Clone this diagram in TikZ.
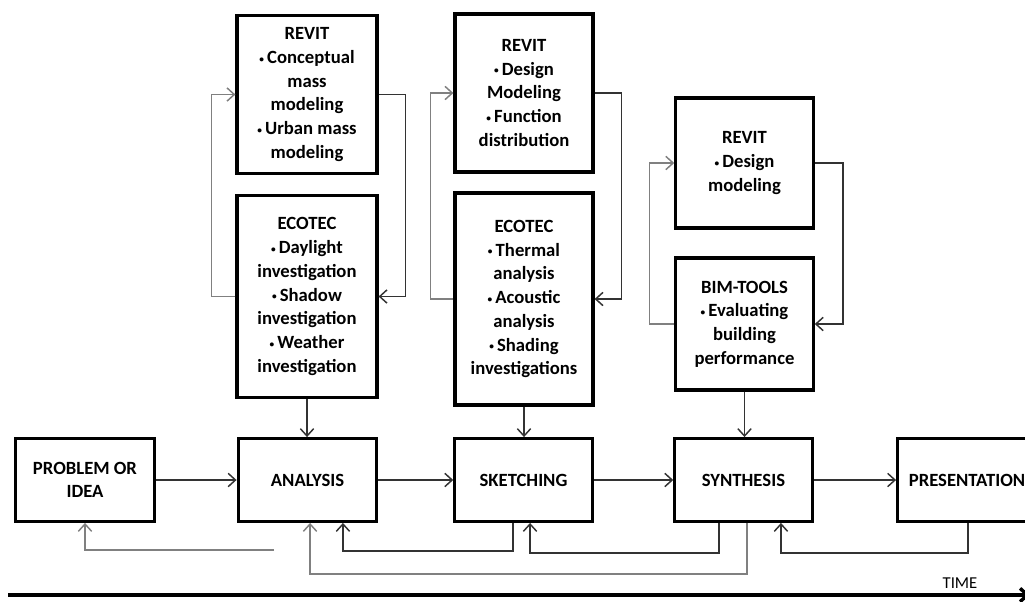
\documentclass[tikz,border=0pt]{standalone}
\usepackage{fontspec}
\setmainfont{Carlito}
\usetikzlibrary{arrows.meta}
\tikzset{>={Straight Barb[length=5.5pt,width=10pt]}}
\tikzset{
  box/.style={draw,line width=2.4pt,align=center,inner sep=2pt,
    font=\fontsize{14}{17.8}\selectfont\bfseries},
  stage/.style={box,minimum width=104pt,minimum height=62pt},
  link/.style={->,line width=1.1pt,black!80},
  back/.style={->,line width=1.1pt,black!50}
}
\newcommand{\itm}{{\scriptsize\raisebox{0.3ex}{\textbullet}}\,}

\begin{document}
\begin{tikzpicture}[x=0.75pt,y=-0.75pt]
\useasboundingbox (0,0) rectangle (1025,601);
% stages along the bottom
\node (problem) [stage] at (85,480) {PROBLEM OR\\IDEA};
\node (analysis) [stage] at (307.5,480) {ANALYSIS};
\node (sketch) [stage,minimum width=103pt] at (523.5,480) {SKETCHING};
\node (synth) [stage,minimum width=103pt] at (743.5,480) {SYNTHESIS};
\node (present) [stage] at (967,480) {PRESENTATION};
% tool boxes
\node (revA) [box,minimum width=105pt,minimum height=118pt] at (307,94.5)
  {REVIT\\\itm Conceptual\\mass\\modeling\\\itm Urban mass\\modeling};
\node (ecoA) [box,minimum width=105pt,minimum height=152pt] at (307,296.5)
  {ECOTEC\\\itm Daylight\\investigation\\\itm Shadow\\investigation\\\itm Weather\\investigation};
\node (revB) [box,minimum width=103.5pt,minimum height=118.5pt] at (524,93)
  {REVIT\\\itm Design\\Modeling\\\itm Function\\distribution};
\node (ecoB) [box,minimum width=103.5pt,minimum height=159pt] at (524,299)
  {ECOTEC\\\itm Thermal\\analysis\\\itm Acoustic\\analysis\\\itm Shading\\investigations};
\node (revC) [box,minimum width=103pt,minimum height=97.5pt] at (744.5,163)
  {REVIT\\\itm Design\\modeling};
\node (bim) [box,minimum width=103pt,minimum height=99pt] at (744.5,324)
  {BIM-TOOLS\\\itm Evaluating\\building\\performance};
% forward flow
\draw[link] (problem) -- (analysis);
\draw[link] (analysis) -- (sketch);
\draw[link] (sketch) -- (synth);
\draw[link] (synth) -- (present);
\draw[link] (ecoA.south) -- (ecoA.south |- analysis.north);
\draw[link] (ecoB.south) -- (ecoB.south |- sketch.north);
\draw[link] (bim.south) -- (bim.south |- synth.north);
% loops between the tools
\draw[back] (ecoA.west) -- ++(-24,0) |- (revA.west);
\draw[link] (revA.east) -- ++(27,0) |- (ecoA.east);
\draw[back] (ecoB.west) -- ++(-23,0) |- (revB.west);
\draw[link] (revB.east) -- ++(27,0) |- (ecoB.east);
\draw[back] (bim.west) -- ++(-25,0) |- (revC.west);
\draw[link] (revC.east) -- ++(28,0) |- (bim.east);
% feedback
\coordinate (fbend) at (274,550);
\draw[back] (fbend) -| (problem.south);
\draw[link] ([xshift=-7.9pt]sketch.south) -- ++(0,28) -| ([xshift=26.6pt]analysis.south);
\draw[back] ([xshift=2.6pt]synth.south) -- ++(0,51) -| ([xshift=1.9pt]analysis.south);
\draw[link] ([xshift=-18.4pt]synth.south) -- ++(0,30) -| ([xshift=4.9pt]sketch.south);
\draw[link] ([xshift=0.8pt]present.south) -- ++(0,30) -| ([xshift=28.1pt]synth.south);
% time axis
\coordinate (t0) at (8,595);
\coordinate (t1) at (1030,595);
\draw[->,line width=2.6pt] (t0) -- (t1);
\node (time) [font=\fontsize{12.5}{14}\selectfont] at (960,583) {TIME};
\end{tikzpicture}
\end{document}
